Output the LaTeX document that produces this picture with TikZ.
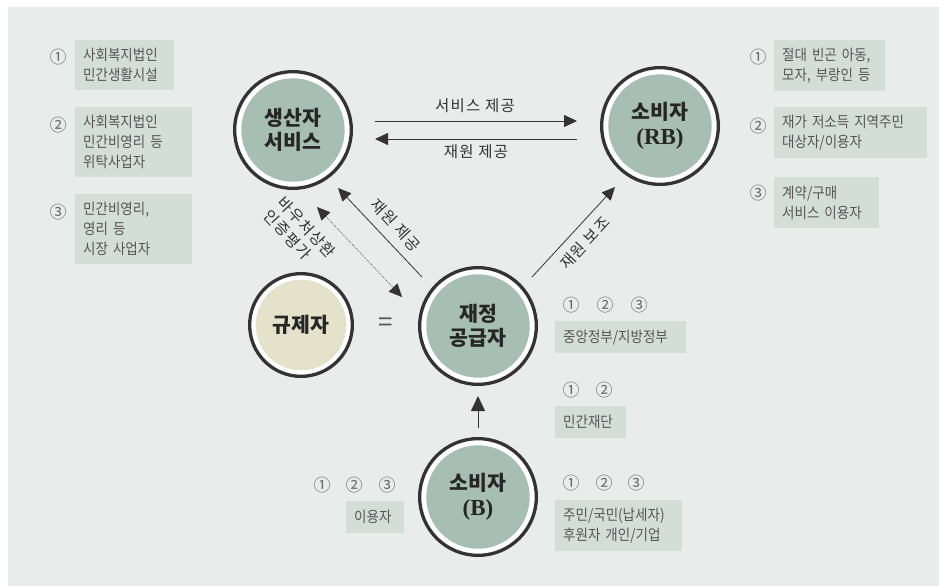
\documentclass[tikz,border=0pt]{standalone}
\usepackage{fontspec}
\setmainfont{Noto Sans CJK KR}
\newfontfamily\lat{Liberation Serif}
\newfontfamily\krn{Noto Sans CJK KR}[FakeStretch=0.9]
\newfontfamily\krw{Noto Sans CJK KR}[LetterSpace=8]
\usetikzlibrary{arrows.meta,calc}
\definecolor{bg}{HTML}{E8EDEB}
\definecolor{boxc}{HTML}{D3DED9}
\definecolor{grn}{HTML}{A7BEB2}
\definecolor{bei}{HTML}{E5E2CC}
\definecolor{dk}{HTML}{333333}
\definecolor{txt}{HTML}{555555}
\definecolor{numc}{HTML}{666666}
\begin{document}
\begin{tikzpicture}[x=1pt,y=-1pt,
  ring/.style={circle, inner sep=0pt, draw=dk, line width=3.3pt, fill=white},
  core/.style={circle, inner sep=0pt, fill=#1, text=black!85, font=\fontsize{20.5}{24}\selectfont\bfseries, align=center},
  box/.style={fill=boxc, anchor=north west, inner xsep=8pt, inner ysep=0pt, align=left, text=txt, font=\krn\fontsize{15}{20}\selectfont},
  numb/.style={text=numc, font=\fontsize{17}{18}\selectfont, inner sep=0pt},
  lbl/.style={text=dk, font=\krw\fontsize{15.5}{19}\selectfont, inner sep=0pt},
  tipa/.tip={Triangle[length=13pt,width=12pt]},
  arr/.style={draw=dk, line width=0.8pt, -tipa},
]
\useasboundingbox (0,0) rectangle (939,586);
\fill[bg] (8,7) rectangle (939,586);

% circles
\node[ring, minimum size=116.7pt] (p) at (293,130) {};
\node[core=grn, minimum size=103.4pt] (pi) at (p) {생산자\\서비스};
\node[ring, minimum size=116.7pt] (c) at (660,126) {};
\node[core=grn, minimum size=103.4pt] (ci) at (c) {소비자\\[1pt]{\lat\bfseries\fontsize{23}{27}\selectfont (RB)}};
\node[ring, minimum size=102.7pt] (r) at (301,325) {};
\node[core=bei, minimum size=90.6pt] (ri) at (r) {규제자};
\node[ring, minimum size=116.7pt] (f) at (478,326) {};
\node[core=grn, minimum size=103.4pt] (fi) at (f) {재정\\공급자};
\node[ring, minimum size=116.7pt] (b) at (478,497) {};
\node[core=grn, minimum size=103.4pt] (bi) at (b) {소비자\\[1pt]{\lat\bfseries\fontsize{23}{27}\selectfont (B)}};

% arrows
\draw[arr] ($(p.center)+(82,-9)$) -- ($(c.center)+(-83,-5)$);
\draw[arr] ($(c.center)+(-83,13)$) -- ($(p.center)+(82,9)$);
\draw[arr] ($(f.center)+(-56,-49)$) -- ($(p.center)+(45,58)$);
\draw[draw=dk, line width=0.6pt, dash pattern=on 0.8pt off 1.2pt, tipa-tipa] ($(p.center)+(24,77)$) -- ($(f.center)+(-76,-29)$);
\draw[arr] ($(f.center)+(54,-49)$) -- ($(c.center)+(-45,61)$);
\draw[arr, -{Triangle[length=15pt,width=14pt]}] ($(b.center)+(0,-69)$) -- ($(f.center)+(0,70)$);

% labels
\node[lbl] (l1) at (475,106) {서비스 제공};
\node[lbl] (l2) at (476,152) {재원 제공};
\node[lbl, rotate=-47] (l3) at (396,225) {재원 제공};
\node[lbl, rotate=-47, align=left] (l4) at (300,234) {바우처상환\\인증평가};
\node[lbl, rotate=47] (l5) at (585,243) {재원 보조};
\node[text=txt, font=\fontsize{26}{26}\selectfont, inner sep=0pt] (eq) at (386,325) {=};

% boxes left
\node[numb] (nl1) at (58,57) {①};
\node[box, text width=83pt, minimum height=50pt] (bl1) at (75,40) {사회복지법인\\민간생활시설};
\node[numb] (nl2) at (58,125) {②};
\node[box, text width=101pt, minimum height=70pt] (bl2) at (75,107) {사회복지법인\\민간비영리 등\\위탁사업자};
\node[numb] (nl3) at (58,212) {③};
\node[box, text width=101pt, minimum height=70pt] (bl3) at (75,194) {민간비영리,\\영리 등\\시장 사업자};

% boxes right
\node[numb] (nr1) at (758,57) {①};
\node[box, text width=95pt, minimum height=51pt] (br1) at (774,40) {절대 빈곤 아동,\\모자, 부랑인 등};
\node[numb] (nr2) at (758,126) {②};
\node[box, text width=137pt, minimum height=51pt] (br2) at (774,107) {재가 저소득 지역주민\\대상자/이용자};
\node[numb] (nr3) at (758,193) {③};
\node[box, text width=89pt, minimum height=51pt] (br3) at (774,177) {계약/구매\\서비스 이용자};

% boxes near finance supplier
\node[numb] (nf1a) at (571,305) {①};
\node[numb] (nf1b) at (605,305) {②};
\node[numb] (nf1c) at (639,305) {③};
\node[box, text width=115pt, minimum height=32pt] (bf1) at (555,321) {중앙정부/지방정부};
\node[numb] (nf2a) at (571,390) {①};
\node[numb] (nf2b) at (604,390) {②};
\node[box, text width=55pt, minimum height=32pt] (bf2) at (555,406) {민간재단};
\node[numb] (nf3a) at (571,483) {①};
\node[numb] (nf3b) at (604,483) {②};
\node[numb] (nf3c) at (636,483) {③};
\node[box, text width=111pt, minimum height=51pt] (bf3) at (555,500) {주민/국민(납세자)\\후원자 개인/기업};

% user box
\node[numb] (nu1) at (322,485) {①};
\node[numb] (nu2) at (354,485) {②};
\node[numb] (nu3) at (387,485) {③};
\node[box, text width=42pt, minimum height=32pt] (bu) at (346,501) {이용자};
\end{tikzpicture}
\end{document}
